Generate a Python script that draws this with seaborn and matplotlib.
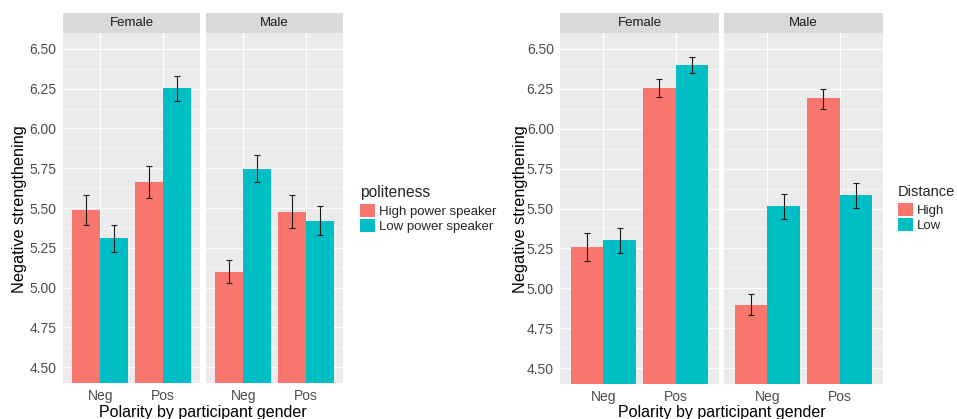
import matplotlib
matplotlib.use("Agg")
import matplotlib.pyplot as plt
import seaborn as sns
import pandas as pd
import numpy as np
from matplotlib.patches import Patch

sns.set_style("white")
plt.rcParams['font.family'] = ['Liberation Sans', 'DejaVu Sans']

# ---------------- data ----------------
genders = ["Female", "Male"]
polarity = ["Neg", "Pos"]

# Chart 1: politeness
pol_levels = ["High power speaker", "Low power speaker"]
pol_female_high = [5.49, 5.665]
pol_female_low = [5.31, 6.255]
pol_male_high = [5.10, 5.478]
pol_male_low = [5.745, 5.419]
pol_female_high_lo = [5.392, 5.564]
pol_female_high_hi = [5.579, 5.764]
pol_female_low_lo = [5.222, 6.173]
pol_female_low_hi = [5.392, 6.332]
pol_male_high_lo = [5.029, 5.377]
pol_male_high_hi = [5.172, 5.579]
pol_male_low_lo = [5.663, 5.329]
pol_male_low_hi = [5.830, 5.512]

# Chart 2: distance
dist_levels = ["High", "Low"]
dist_female_high = [5.258, 6.257]
dist_female_low = [5.302, 6.399]
dist_male_high = [4.896, 6.190]
dist_male_low = [5.514, 5.587]
dist_female_high_lo = [5.170, 6.198]
dist_female_high_hi = [5.344, 6.309]
dist_female_low_lo = [5.222, 6.349]
dist_female_low_hi = [5.376, 6.447]
dist_male_high_lo = [4.831, 6.122]
dist_male_high_hi = [4.961, 6.251]
dist_male_low_lo = [5.434, 5.505]
dist_male_low_hi = [5.591, 5.662]

yticks = [4.50, 4.75, 5.00, 5.25, 5.50, 5.75, 6.00, 6.25, 6.50]
colors = ["#F8766D", "#00BFC4"]

W, H = 957, 419
fig = plt.figure(figsize=(W / 100, H / 100), dpi=100)


def px_axes(x0, y0, x1, y1):
    return fig.add_axes([x0 / W, 1 - y1 / H, (x1 - x0) / W, (y1 - y0) / H])


def make_df(levels, high, low):
    rows = []
    for j, p in enumerate(polarity):
        rows.append({"Polarity": p, "Group": levels[0], "value": high[j]})
        rows.append({"Polarity": p, "Group": levels[1], "value": low[j]})
    return pd.DataFrame(rows)


def draw_panel(x0, x1, y0, y1, gender, levels, high, low, lo, hi, show_y):
    # strip
    sax = px_axes(x0, y0 - 20, x1, y0)
    sax.set_facecolor("#D9D9D9")
    sax.set_xticks([]); sax.set_yticks([])
    for s in sax.spines.values():
        s.set_visible(False)
    sax.text(0.5, 0.5, gender, ha="center", va="center", fontsize=9.5,
             color="#1A1A1A", transform=sax.transAxes)

    ax = px_axes(x0, y0, x1, y1)
    ax.set_facecolor("#EBEBEB")
    df = make_df(levels, high, low)
    sns.barplot(data=df, x="Polarity", y="value", hue="Group", order=polarity,
                hue_order=levels, palette=colors, width=0.9, gap=0,
                legend=False, ax=ax, errorbar=None, saturation=1,
                linewidth=0, zorder=3)
    bar_containers = list(ax.containers)
    for i, cont in enumerate(bar_containers):
        los, his = lo[i], hi[i]
        for j, bar in enumerate(cont):
            cx = bar.get_x() + bar.get_width() / 2
            mid = (los[j] + his[j]) / 2
            ax.errorbar([cx], [mid], yerr=[[mid - los[j]], [his[j] - mid]],
                        fmt="none", ecolor="#1A1A1A", elinewidth=0.8,
                        capsize=2.5, capthick=0.8, zorder=4)
    ax.set_xlim(-0.6, 1.6)
    ax.set_ylim(4.4, 6.6)
    ax.set_yticks(yticks)
    ax.set_yticks([v + 0.125 for v in yticks[:-1]], minor=True)
    ax.grid(True, which="major", color="white", lw=0.8, zorder=0)
    ax.grid(True, which="minor", axis="y", color="white", lw=0.4, zorder=0)
    ax.set_axisbelow(True)
    for s in ax.spines.values():
        s.set_visible(False)
    ax.tick_params(which="minor", length=0)
    ax.tick_params(axis="x", length=3, width=0.7, color="#333333",
                   labelsize=10, labelcolor="#4D4D4D", pad=1.5)
    if show_y:
        ax.set_yticklabels([f"{v:.2f}" for v in yticks])
        ax.tick_params(axis="y", length=3, width=0.7, color="#333333",
                       labelsize=10, labelcolor="#4D4D4D", pad=1.5)
    else:
        ax.tick_params(axis="y", length=0, labelleft=False)
    ax.set_xlabel("")
    ax.set_ylabel("")
    return ax


# chart 1
draw_panel(63, 200, 33, 383, "Female", pol_levels, pol_female_high, pol_female_low,
           [pol_female_high_lo, pol_female_low_lo], [pol_female_high_hi, pol_female_low_hi], True)
draw_panel(206, 343, 33, 383, "Male", pol_levels, pol_male_high, pol_male_low,
           [pol_male_high_lo, pol_male_low_lo], [pol_male_high_hi, pol_male_low_hi], False)
# chart 2
draw_panel(560, 719, 33, 384, "Female", dist_levels, dist_female_high, dist_female_low,
           [dist_female_high_lo, dist_female_low_lo], [dist_female_high_hi, dist_female_low_hi], True)
draw_panel(724, 883, 33, 384, "Male", dist_levels, dist_male_high, dist_male_low,
           [dist_male_high_lo, dist_male_low_lo], [dist_male_high_hi, dist_male_low_hi], False)

# axis titles
for xc in [203, 721.5]:
    fig.text(xc / W, 1 - 417 / H, "Polarity by participant gender", ha="center",
             va="baseline", fontsize=11.5, color="black")
for xc in [20, 520]:
    fig.text(xc / W, 1 - 209 / H, "Negative strengthening", ha="center",
             va="center", rotation=90, fontsize=11.7, color="black")

# legends
for x, title, levels, tsize in [(360, "politeness", pol_levels, 11.2),
                                (898, "Distance", dist_levels, 10.5)]:
    handles = [Patch(facecolor=c, edgecolor="none") for c in colors]
    leg = fig.legend(handles, levels, title=title, loc="upper left",
                     bbox_to_anchor=(x / W, 1 - 185 / H), frameon=False,
                     fontsize=9.5, title_fontsize=tsize, handlelength=1.14,
                     handleheight=1.14, labelspacing=0.1, handletextpad=0.27,
                     borderpad=0, borderaxespad=0)
    leg._legend_box.align = "left"
    leg._legend_box.sep = 3

fig.savefig("out.png", dpi=100)
